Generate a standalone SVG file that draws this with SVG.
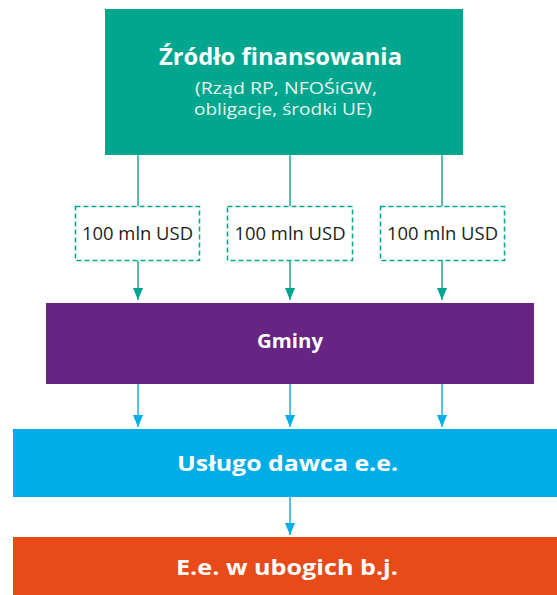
<svg xmlns="http://www.w3.org/2000/svg" width="557" height="595" viewBox="0 0 557 595">
<style>
.t{font-family:"Open Sans","Liberation Sans",sans-serif;text-anchor:middle}
.b{font-weight:bold;fill:#fff}
.sub{fill:#e6f5f1;font-size:17px}
.lbl{fill:#1d1d1b;font-size:18px}
.tl{stroke:#00a78e;stroke-width:1.4;fill:none}
.bl{stroke:#00ade6;stroke-width:1.4;fill:none}
.dash{fill:#fff;stroke:#00a78e;stroke-width:1.5;stroke-dasharray:5 3}
</style>
<defs>
<marker id="ag" viewBox="0 0 12 10" refX="12" refY="5" markerWidth="12" markerHeight="10" markerUnits="userSpaceOnUse" orient="auto"><path d="M0,0L12,5L0,10Z" fill="#00a78e"/></marker>
<marker id="ab" viewBox="0 0 12 10" refX="12" refY="5" markerWidth="12" markerHeight="10" markerUnits="userSpaceOnUse" orient="auto"><path d="M0,0L12,5L0,10Z" fill="#00ade6"/></marker>
</defs>
<g id="connectors">
<line class="tl" x1="138" y1="154" x2="138" y2="206"/>
<line class="tl" x1="290" y1="154" x2="290" y2="206"/>
<line class="tl" x1="442" y1="154" x2="442" y2="206"/>
<line class="tl" x1="138" y1="261" x2="138" y2="300" marker-end="url(#ag)"/>
<line class="tl" x1="290" y1="261" x2="290" y2="300" marker-end="url(#ag)"/>
<line class="tl" x1="442" y1="261" x2="442" y2="300" marker-end="url(#ag)"/>
<line class="bl" x1="138" y1="383" x2="138" y2="427" marker-end="url(#ab)"/>
<line class="bl" x1="290" y1="383" x2="290" y2="427" marker-end="url(#ab)"/>
<line class="bl" x1="442" y1="383" x2="442" y2="427" marker-end="url(#ab)"/>
<line class="bl" x1="290" y1="497" x2="290" y2="535" marker-end="url(#ab)"/>
</g>
<g id="source">
<rect x="105" y="9" width="358" height="146" fill="#00a78e"/>
<text class="t b" x="280.5" y="65" font-size="23" textLength="243" lengthAdjust="spacingAndGlyphs">Źródło finansowania</text>
<text class="t sub" x="286" y="94" textLength="182" lengthAdjust="spacingAndGlyphs">(Rząd RP, NFOŚiGW,</text>
<text class="t sub" x="283" y="115" textLength="178" lengthAdjust="spacingAndGlyphs">obligacje, środki UE)</text>
</g>
<g id="amount1">
<rect class="dash" x="75.5" y="206.5" width="124" height="54"/>
<text class="t lbl" x="137.5" y="240" textLength="111" lengthAdjust="spacingAndGlyphs">100 mln USD</text>
</g>
<g id="amount2">
<rect class="dash" x="227.5" y="206.5" width="125" height="54"/>
<text class="t lbl" x="290" y="240" textLength="111" lengthAdjust="spacingAndGlyphs">100 mln USD</text>
</g>
<g id="amount3">
<rect class="dash" x="380.5" y="206.5" width="124" height="54"/>
<text class="t lbl" x="442.5" y="240" textLength="111" lengthAdjust="spacingAndGlyphs">100 mln USD</text>
</g>
<g id="gminy">
<rect x="46" y="303" width="488" height="81" fill="#662483"/>
<text class="t b" x="290" y="348" font-size="19" textLength="66" lengthAdjust="spacingAndGlyphs">Gminy</text>
</g>
<g id="provider">
<rect x="13" y="429" width="544" height="68" fill="#00ade6"/>
<text class="t b" x="287.5" y="471" font-size="22" textLength="221" lengthAdjust="spacingAndGlyphs">Usługo dawca e.e.</text>
</g>
<g id="poor">
<rect x="13" y="537" width="544" height="58" fill="#e84a1a"/>
<text class="t b" x="287" y="575" font-size="22" textLength="222" lengthAdjust="spacingAndGlyphs">E.e. w ubogich b.j.</text>
</g>
</svg>
